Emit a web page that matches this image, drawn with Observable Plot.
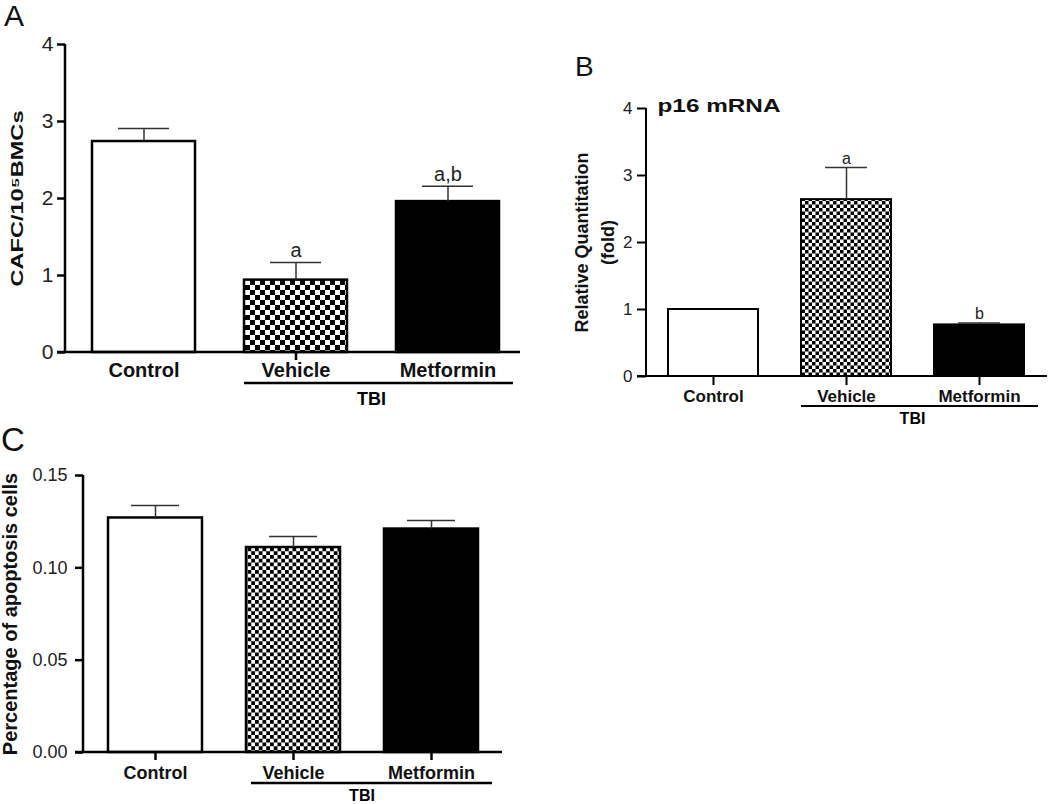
<!DOCTYPE html>
<html><head><meta charset="utf-8">
<script src="https://cdn.jsdelivr.net/npm/d3@7"></script>
<script src="https://cdn.jsdelivr.net/npm/@observablehq/plot@0.6"></script>
<style>
body{margin:0;background:#fff;}
#wrap{position:relative;width:1050px;height:804px;overflow:hidden;font-family:"Liberation Sans",Arial,sans-serif;background:#fff;}
.panel{position:absolute;}
.letter{position:absolute;line-height:1;font-weight:normal;color:#111;}
</style></head><body><div id="wrap"></div>
<script>
// ---- data ----
const categories = ["Control", "Vehicle", "Metformin"];
const groupLabel = "TBI";
const cafcMean = [2.74, 0.94, 1.96];
const cafcErr  = [0.17, 0.23, 0.20];
const cafcSig  = ["", "a", "a,b"];
const cafcTicks = [0, 1, 2, 3, 4];
const p16Mean = [1.00, 2.64, 0.77];
const p16Err  = [0, 0.48, 0.03];
const p16Sig  = ["", "a", "b"];
const p16Ticks = [0, 1, 2, 3, 4];
const apopMean = [0.127, 0.111, 0.121];
const apopErr  = [0.0067, 0.006, 0.0046];
const apopSig  = ["", "", ""];
const apopTicks = [0, 0.05, 0.10, 0.15];

const FONT = "Liberation Sans, Arial, sans-serif";

function decor(cfg) {
  return (index, scales, values, dims) => {
    const {x, y} = scales;
    const bw = x.bandwidth();
    const g = d3.create("svg:g");
    const left = dims.marginLeft, right = dims.width - dims.marginRight;
    const y0 = y(0), yTop = y(cfg.domain[1]);
    g.append("line").attr("x1", left).attr("x2", left).attr("y1", yTop).attr("y2", y0)
      .attr("stroke", "black").attr("stroke-width", cfg.axisW);
    g.append("line").attr("x1", left - cfg.tickSize).attr("x2", right - cfg.axisTrim)
      .attr("y1", y0).attr("y2", y0).attr("stroke", "black").attr("stroke-width", cfg.axisW);
    const xa = x(categories[1]) + cfg.bracketLeft;
    const xb = x(categories[2]) + bw + cfg.bracketRight;
    g.append("line").attr("x1", xa).attr("x2", xb)
      .attr("y1", y0 + cfg.bracketDy).attr("y2", y0 + cfg.bracketDy)
      .attr("stroke", "black").attr("stroke-width", cfg.axisW);
    g.append("text")
      .attr("x", (x(categories[1]) + x(categories[2])) / 2 + bw / 2)
      .attr("y", y0 + cfg.tbiDy).attr("dy", "0.35em")
      .attr("text-anchor", "middle").attr("font-weight", "bold")
      .attr("font-size", cfg.tbiFont).attr("font-family", FONT).attr("fill", "black")
      .text(groupLabel);
    return g.node();
  };
}

function makePanel(cfg) {
  const pid = "chk" + cfg.id;
  const fills = ["white", `url(#${pid})`, "black"];
  const data = categories.map((c, i) => ({
    cat: c, value: cfg.mean[i], err: cfg.err[i], sig: cfg.sig[i], fill: fills[i]
  }));
  const withErr = data.filter(d => d.err > 0);
  const marks = [
    Plot.barY(data, {x: "cat", y: "value", fill: d => d.fill, stroke: "black", strokeWidth: cfg.barW}),
    Plot.ruleX(withErr, {x: "cat", y1: "value", y2: d => d.value + d.err, stroke: "#333", strokeWidth: cfg.errW}),
    Plot.tickY(withErr, {x: "cat", y: d => d.value + d.err, insetLeft: cfg.capInset, insetRight: cfg.capInset, stroke: "#333", strokeWidth: cfg.errW}),
    Plot.text(data.filter(d => d.sig), {x: "cat", y: d => d.value + d.err, text: "sig", dy: cfg.sigDy, lineAnchor: "middle", fontSize: cfg.sigFont, fill: "#222"}),
    Plot.axisY({ticks: cfg.ticks, tickSize: cfg.tickSize, tickPadding: cfg.tickPad, fontSize: cfg.tickFont, tickFormat: cfg.tickFormat, label: null, stroke: "black", fill: "#222", strokeWidth: cfg.axisW}),
    Plot.text([cfg.yLabel], {frameAnchor: "left", textAnchor: "middle", lineAnchor: "middle", rotate: -90, dx: cfg.yLabelDx, fontSize: cfg.yLabelFont, fontWeight: "bold", lineHeight: cfg.lineHeight || 1, fill: "#111"}),
    decor(cfg)
  ];
  if (cfg.catTicksOnly) {
    marks.push(Plot.axisX({tickSize: 0, tickPadding: cfg.catPad, fontSize: cfg.catFont, fontWeight: "bold", label: null, fill: "#111"}));
    marks.push(Plot.axisX({ticks: cfg.catTicksOnly, tickSize: cfg.catTickSize, tickFormat: () => "", label: null, stroke: "black", strokeWidth: cfg.axisW}));
  } else {
    marks.push(Plot.axisX({tickSize: cfg.catTickSize, tickPadding: cfg.catPad, fontSize: cfg.catFont, fontWeight: "bold", label: null, stroke: "black", fill: "#111", strokeWidth: cfg.axisW}));
  }
  if (cfg.title) {
    marks.push(Plot.text([cfg.title], {frameAnchor: "top-left", dx: cfg.titleDx, dy: cfg.titleDy, textAnchor: "start", lineAnchor: "middle", fontSize: cfg.titleFont, fontWeight: "bold", fill: "#111"}));
  }
  const svg = Plot.plot({
    width: cfg.width, height: cfg.height,
    marginTop: cfg.margin[0], marginRight: cfg.margin[1], marginBottom: cfg.margin[2], marginLeft: cfg.margin[3],
    style: {fontFamily: FONT, background: "transparent", overflow: "visible", color: "#111"},
    x: {type: "band", domain: categories, paddingInner: cfg.padIn, paddingOuter: cfg.padOut, label: null},
    y: {domain: cfg.domain, label: null},
    color: {type: "identity"},
    marks
  });
  const s = cfg.check;
  const defs = d3.select(svg).insert("defs", ":first-child");
  const pat = defs.append("pattern").attr("id", pid).attr("width", s).attr("height", s).attr("patternUnits", "userSpaceOnUse");
  pat.append("rect").attr("width", s).attr("height", s).attr("fill", "white");
  pat.append("rect").attr("width", s / 2).attr("height", s / 2).attr("fill", "black");
  pat.append("rect").attr("x", s / 2).attr("y", s / 2).attr("width", s / 2).attr("height", s / 2).attr("fill", "black");
  d3.select(svg).selectAll("text").each(function () {
    if (cfg.yLabelLength && this.textContent === cfg.yLabel) {
      d3.select(this).attr("textLength", cfg.yLabelLength).attr("lengthAdjust", "spacingAndGlyphs");
    }
    if (cfg.titleLength && this.textContent === cfg.title) {
      d3.select(this).attr("textLength", cfg.titleLength).attr("lengthAdjust", "spacingAndGlyphs");
    }
  });
  svg.classList.add("panel");
  svg.style.left = cfg.left + "px";
  svg.style.top = cfg.top + "px";
  return svg;
}

const wrap = document.getElementById("wrap");

wrap.appendChild(makePanel({
  id: "A", left: 0, top: 0, width: 530, height: 410, margin: [44, 4, 58, 65],
  padIn: 0.325, padOut: 0.174, domain: [0, 4], ticks: cafcTicks, tickFormat: d => String(d),
  mean: cafcMean, err: cafcErr, sig: cafcSig,
  tickFont: 21, tickSize: 8, tickPad: 4, axisW: 2.5, barW: 2.5, errW: 1.5, capInset: 26, check: 10,
  catFont: 20, catPad: 10, catTickSize: 8, catTicksOnly: ["Vehicle"],
  sigFont: 20, sigDy: -12,
  yLabel: "CAFC/10⁵BMCs", yLabelFont: 17, yLabelDx: -48, yLabelLength: 176,
  bracketDy: 31, bracketLeft: 0, bracketRight: 14, tbiDy: 47, tbiFont: 18, axisTrim: 6
}));

wrap.appendChild(makePanel({
  id: "B", left: 560, top: 40, width: 490, height: 390, margin: [68, 3, 54, 86],
  padIn: 0.321, padOut: 0.157, domain: [0, 4], ticks: p16Ticks, tickFormat: d => String(d),
  mean: p16Mean, err: p16Err, sig: p16Sig,
  tickFont: 17, tickSize: 9, tickPad: 5, axisW: 2, barW: 2, errW: 1.5, capInset: 24, check: 7,
  catFont: 17, catPad: 4, catTickSize: 9,
  sigFont: 16, sigDy: -9,
  yLabel: "Relative Quantitation\n(fold)", yLabelFont: 18, yLabelDx: -54, lineHeight: 1.45,
  title: "p16 mRNA", titleDx: 11, titleDy: -2, titleFont: 18, titleLength: 123,
  bracketDy: 30, bracketLeft: 0, bracketRight: 14, tbiDy: 42, tbiFont: 16, axisTrim: 0
}));

wrap.appendChild(makePanel({
  id: "C", left: 0, top: 420, width: 510, height: 384, margin: [55, 8, 52, 83],
  padIn: 0.32, padOut: 0.173, domain: [0, 0.15], ticks: apopTicks, tickFormat: d3.format(".2f"),
  mean: apopMean, err: apopErr, sig: apopSig,
  tickFont: 18, tickSize: 8, tickPad: 8, axisW: 2.5, barW: 2.5, errW: 1.5, capInset: 23, check: 7.5,
  catFont: 18, catPad: 6, catTickSize: 8,
  sigFont: 16, sigDy: -10,
  yLabel: "Percentage of apoptosis cells", yLabelFont: 20, yLabelDx: -73,
  bracketDy: 31, bracketLeft: 5, bracketRight: 14, tbiDy: 43, tbiFont: 16, axisTrim: 0
}));

const letters = [["A", 4, 1, 30], ["B", 575, 53, 28], ["C", 1, 423, 33]];
for (const [t, l, tp, fs] of letters) {
  const d = document.createElement("div");
  d.className = "letter";
  d.textContent = t;
  d.style.left = l + "px";
  d.style.top = tp + "px";
  d.style.fontSize = fs + "px";
  wrap.appendChild(d);
}
</script></body></html>
